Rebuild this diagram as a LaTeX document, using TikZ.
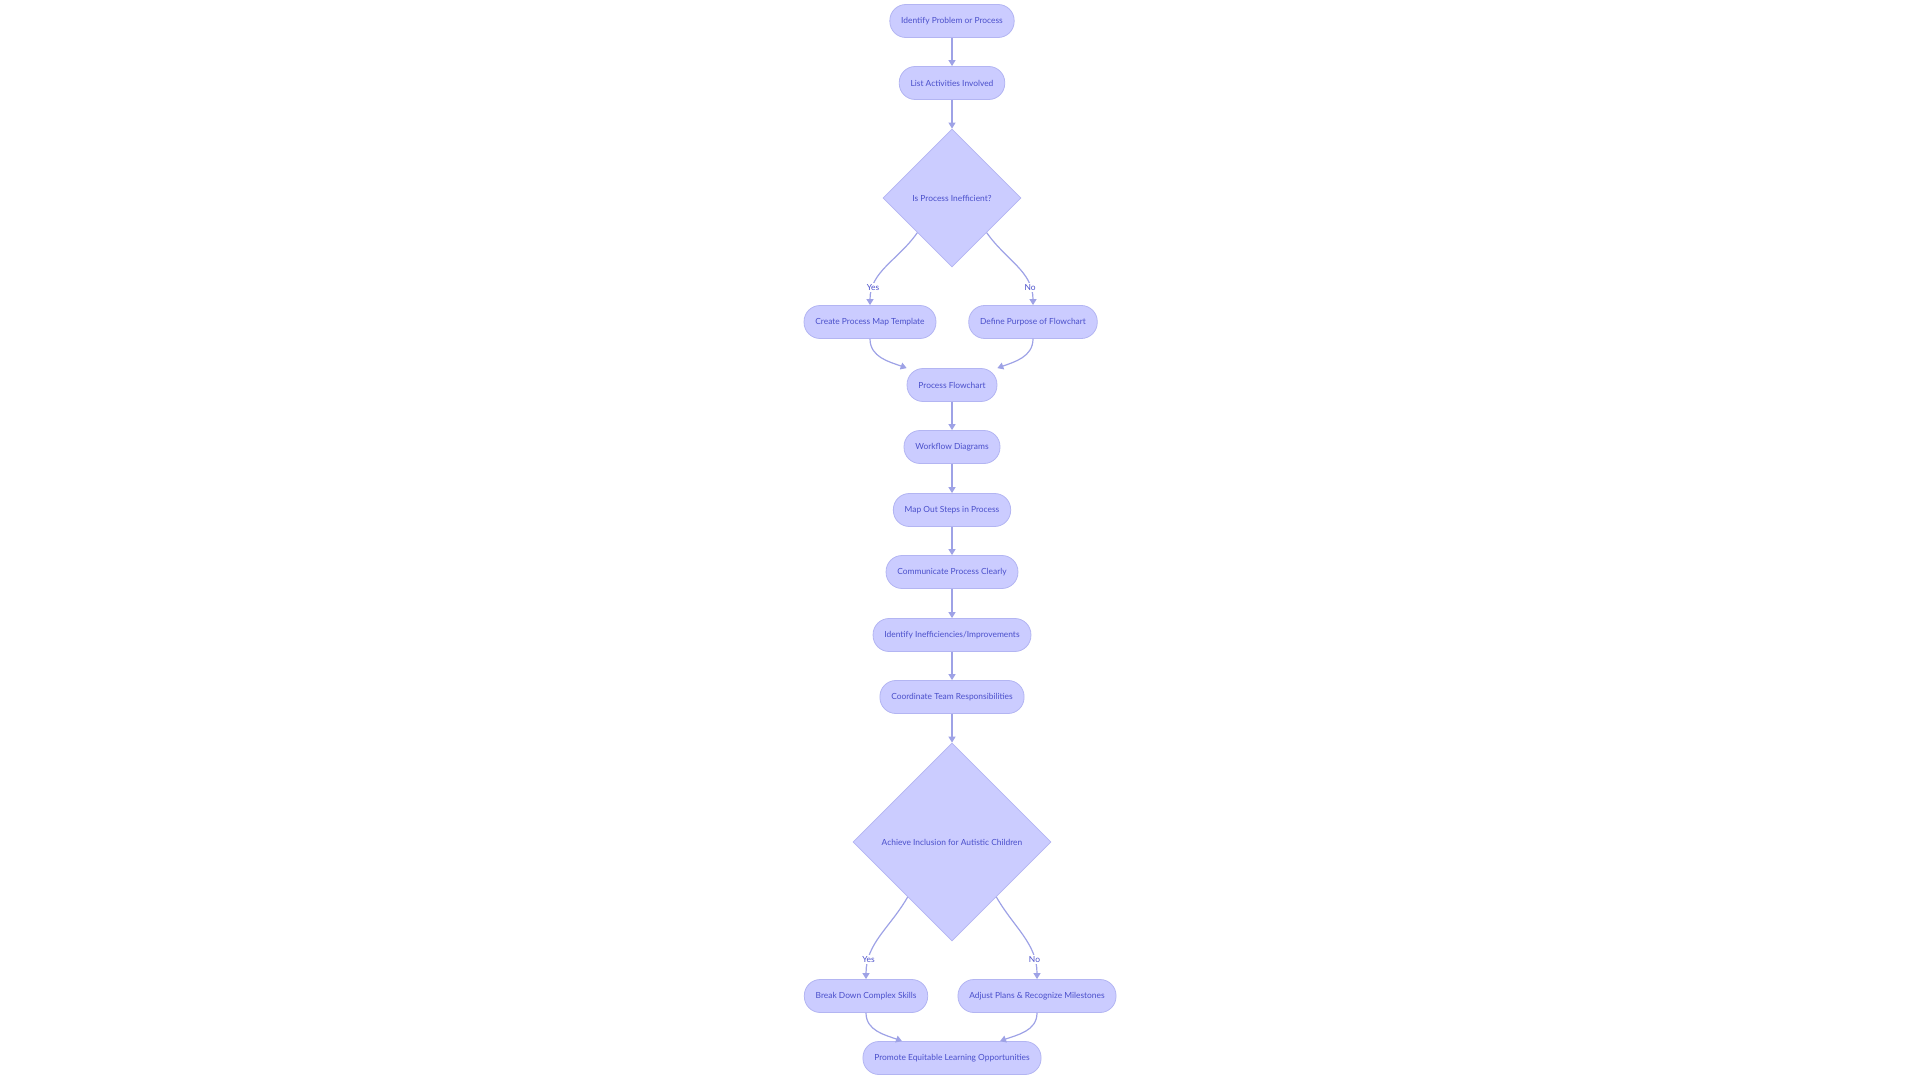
\documentclass[tikz,border=0pt]{standalone}
\usepackage{fontspec}
\setmainfont{Lato}
\usetikzlibrary{shapes.geometric,arrows.meta}
\definecolor{boxfill}{HTML}{CBCCFF}
\definecolor{boxline}{HTML}{B3B5F2}
\definecolor{boxtext}{HTML}{4A4FCB}
\definecolor{arrowline}{HTML}{9EA2E6}
\tikzset{
    flow-box/.style = {draw=boxline, fill=boxfill, text=boxtext, line width=0.6pt, rectangle, rounded corners=12pt, minimum height=24.75pt, inner xsep=8.5pt, font=\fontsize{6.3}{7}\selectfont},
    decision-box/.style = {draw=boxline, fill=boxfill, text=boxtext, line width=0.6pt, diamond, aspect=1, inner sep=0pt, font=\fontsize{6.3}{7}\selectfont},
    flow-arrow/.style = {draw=arrowline, line width=0.9pt, -{Triangle[length=4.5pt,width=5.25pt]}},
    edge-label/.style = {fill=white, text=boxtext, inner sep=1pt, font=\fontsize{6.3}{7}\selectfont},
}

\begin{document}
\begin{tikzpicture}[x=0.75pt, y=-0.75pt]
\useasboundingbox (0,0) rectangle (1920,1080);
\node [flow-box] (identify) at (952,21) {Identify Problem or Process};
\node [flow-box] (activities) at (952,83) {List Activities Involved};
\node [decision-box, minimum width=103.5pt, minimum height=103.5pt] (inefficient) at (952,198) {Is Process Inefficient?};
\node [flow-box] (template) at (870,322) {Create Process Map Template};
\node [flow-box] (purpose) at (1033,322) {Define Purpose of Flowchart};
\node [flow-box] (flowchart) at (952,385) {Process Flowchart};
\node [flow-box] (workflow) at (952,447) {Workflow Diagrams};
\node [flow-box] (steps) at (952,510) {Map Out Steps in Process};
\node [flow-box] (communicate) at (952,572) {Communicate Process Clearly};
\node [flow-box] (improve) at (952,635) {Identify Inefficiencies/Improvements};
\node [flow-box] (team) at (952,697) {Coordinate Team Responsibilities};
\node [decision-box, minimum width=148.5pt, minimum height=148.5pt] (inclusion) at (952,842) {Achieve Inclusion for Autistic Children};
\node [flow-box] (skills) at (866,996) {Break Down Complex Skills};
\node [flow-box] (plans) at (1037,996) {Adjust Plans \& Recognize Milestones};
\node [flow-box] (equitable) at (952,1058) {Promote Equitable Learning Opportunities};

\draw [flow-arrow] (identify) -- (activities);
\draw [flow-arrow] (activities) -- (inefficient);
\draw [flow-arrow] (inefficient.south west) to[out=-125, in=90] node[edge-label, pos=0.8]{Yes} (template.north);
\draw [flow-arrow] (inefficient.south east) to[out=-55, in=90] node[edge-label, pos=0.8]{No} (purpose.north);
\draw [flow-arrow] (template.south) to[out=-90, in=160] (flowchart.north west);
\draw [flow-arrow] (purpose.south) to[out=-90, in=20] (flowchart.north east);
\draw [flow-arrow] (flowchart) -- (workflow);
\draw [flow-arrow] (workflow) -- (steps);
\draw [flow-arrow] (steps) -- (communicate);
\draw [flow-arrow] (communicate) -- (improve);
\draw [flow-arrow] (improve) -- (team);
\draw [flow-arrow] (team) -- (inclusion);
\draw [flow-arrow] ([shift={(4pt,-4pt)}]inclusion.south west) to[out=-120, in=90] node[edge-label, pos=0.8]{Yes} (skills.north);
\draw [flow-arrow] ([shift={(-4pt,-4pt)}]inclusion.south east) to[out=-60, in=90] node[edge-label, pos=0.8]{No} (plans.north);
\draw [flow-arrow] (skills.south) to[out=-90, in=160] ([xshift=-37.5pt]equitable.north);
\draw [flow-arrow] (plans.south) to[out=-90, in=20] ([xshift=36pt]equitable.north);
\end{tikzpicture}
\end{document}
